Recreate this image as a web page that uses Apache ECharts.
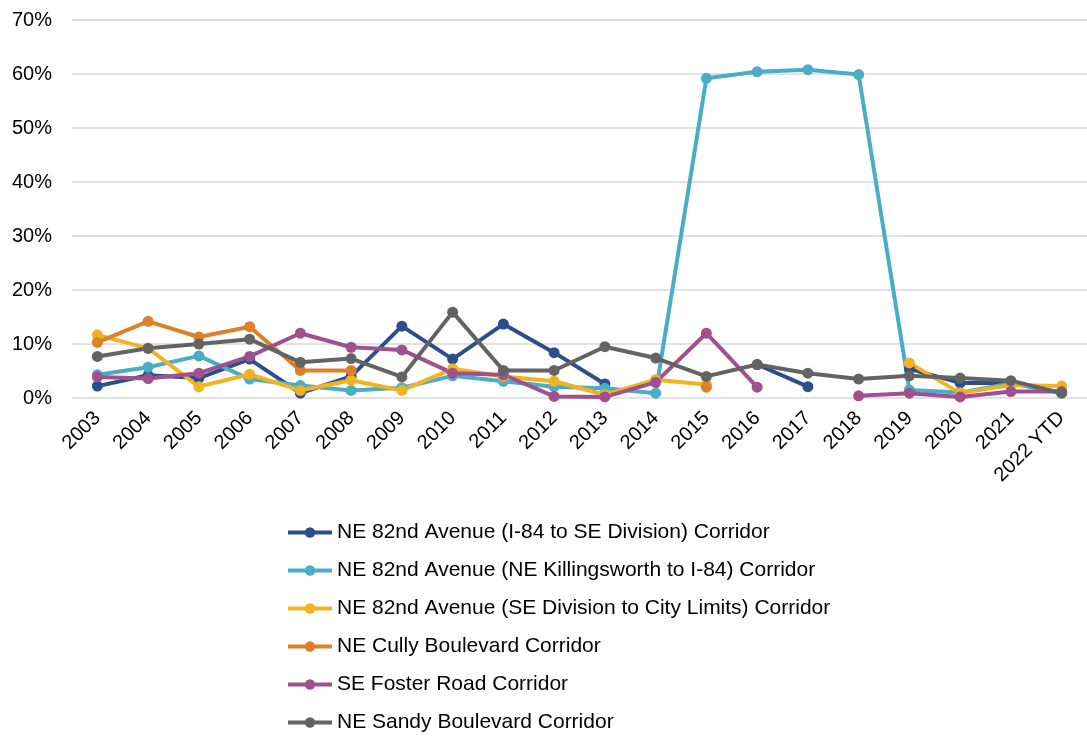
<!DOCTYPE html>
<html>
<head>
<meta charset="utf-8">
<script src="https://cdn.jsdelivr.net/npm/echarts@6/dist/echarts.min.js"></script>
<style>
  html, body { margin: 0; padding: 0; background: #fff; }
  #chart { width: 1087px; height: 736px; }
</style>
</head>
<body>
<div id="chart"></div>
<script>
// 年份类目
const years = ['2003', '2004', '2005', '2006', '2007', '2008', '2009', '2010', '2011', '2012',
    '2013', '2014', '2015', '2016', '2017', '2018', '2019', '2020', '2021', '2022 YTD'];

// 各走廊数值（百分比），null 表示无数据
const i84ToDivision = [2.2, 4.2, 3.7, 7.2, 0.9, 4.0, 13.3, 7.2, 13.7, 8.4, 2.6, null, null, 6.2, 2.1, null, 5.4, 2.8, 2.8, 1.0];
const killingsworth = [4.3, 5.7, 7.8, 3.5, 2.3, 1.4, 1.9, 4.1, 3.1, 2.1, 1.8, 0.9, 59.2, 60.4, 60.8, 59.9, 1.5, 1.0, 2.7, 1.0];
const divisionToLimits = [11.7, 9.2, 2.1, 4.4, 1.4, 3.3, 1.4, 5.4, 4.0, 3.1, 0.6, 3.4, 2.5, null, null, null, 6.5, 0.9, 2.4, 2.2];
const cully = [10.3, 14.2, 11.3, 13.2, 5.1, 5.1, null, null, null, null, null, null, 2.0, null, null, null, null, null, null, null];
const foster = [3.9, 3.6, 4.6, 7.7, 12.0, 9.4, 8.9, 4.6, 4.3, 0.3, 0.2, 2.9, 12.0, 2.0, null, 0.4, 0.9, 0.2, 1.2, 1.2];
const sandy = [7.7, 9.2, 10.0, 10.9, 6.6, 7.3, 3.9, 15.9, 5.1, 5.1, 9.5, 7.4, 4.0, 6.2, 4.6, 3.5, 4.1, 3.7, 3.2, 0.9];

const seriesNames = [
    'NE 82nd Avenue (I-84 to SE Division) Corridor',
    'NE 82nd Avenue (NE Killingsworth to I-84) Corridor',
    'NE 82nd Avenue (SE Division to City Limits) Corridor',
    'NE Cully Boulevard Corridor',
    'SE Foster Road Corridor',
    'NE Sandy Boulevard Corridor'
];
const seriesData = [i84ToDivision, killingsworth, divisionToLimits, cully, foster, sandy];
const seriesColors = ['#2c4f8c', '#4bacc6', '#f0b323', '#df7f27', '#a0508e', '#636363'];

const chart = echarts.init(document.getElementById('chart'));

const series = seriesNames.map((name, i) => ({
    name: name,
    type: 'line',
    data: seriesData[i],
    connectNulls: false,
    symbol: 'circle',
    symbolSize: 11,
    lineStyle: { width: 4, color: seriesColors[i] },
    itemStyle: { color: seriesColors[i] },
    animation: false
}));

const option = {
    backgroundColor: '#fff',
    textStyle: { fontFamily: 'Liberation Sans', color: '#000' },
    grid: {
        left: 72,
        top: 20,
        width: 1026,
        height: 378
    },
    legend: {
        orient: 'vertical',
        left: 286,
        top: 522,
        padding: 0,
        itemWidth: 44,
        itemHeight: 13,
        itemGap: 17,
        lineStyle: { width: 4 },
        textStyle: { fontSize: 21, color: '#000', fontFamily: 'Liberation Sans' },
        data: seriesNames
    },
    xAxis: {
        type: 'category',
        data: years,
        boundaryGap: true,
        axisLine: { show: false },
        axisTick: { show: false },
        axisLabel: {
            rotate: 45,
            interval: 0,
            fontSize: 20,
            color: '#000',
            margin: 17
        }
    },
    yAxis: {
        type: 'value',
        min: 0,
        max: 70,
        interval: 10,
        axisLine: { show: false },
        axisTick: { show: false },
        axisLabel: {
            formatter: '{value}%',
            fontSize: 20,
            color: '#000',
            margin: 20
        },
        splitLine: { lineStyle: { color: '#d9d9d9', width: 1.5 } }
    },
    series: series
};

chart.setOption(option);
</script>
</body>
</html>
